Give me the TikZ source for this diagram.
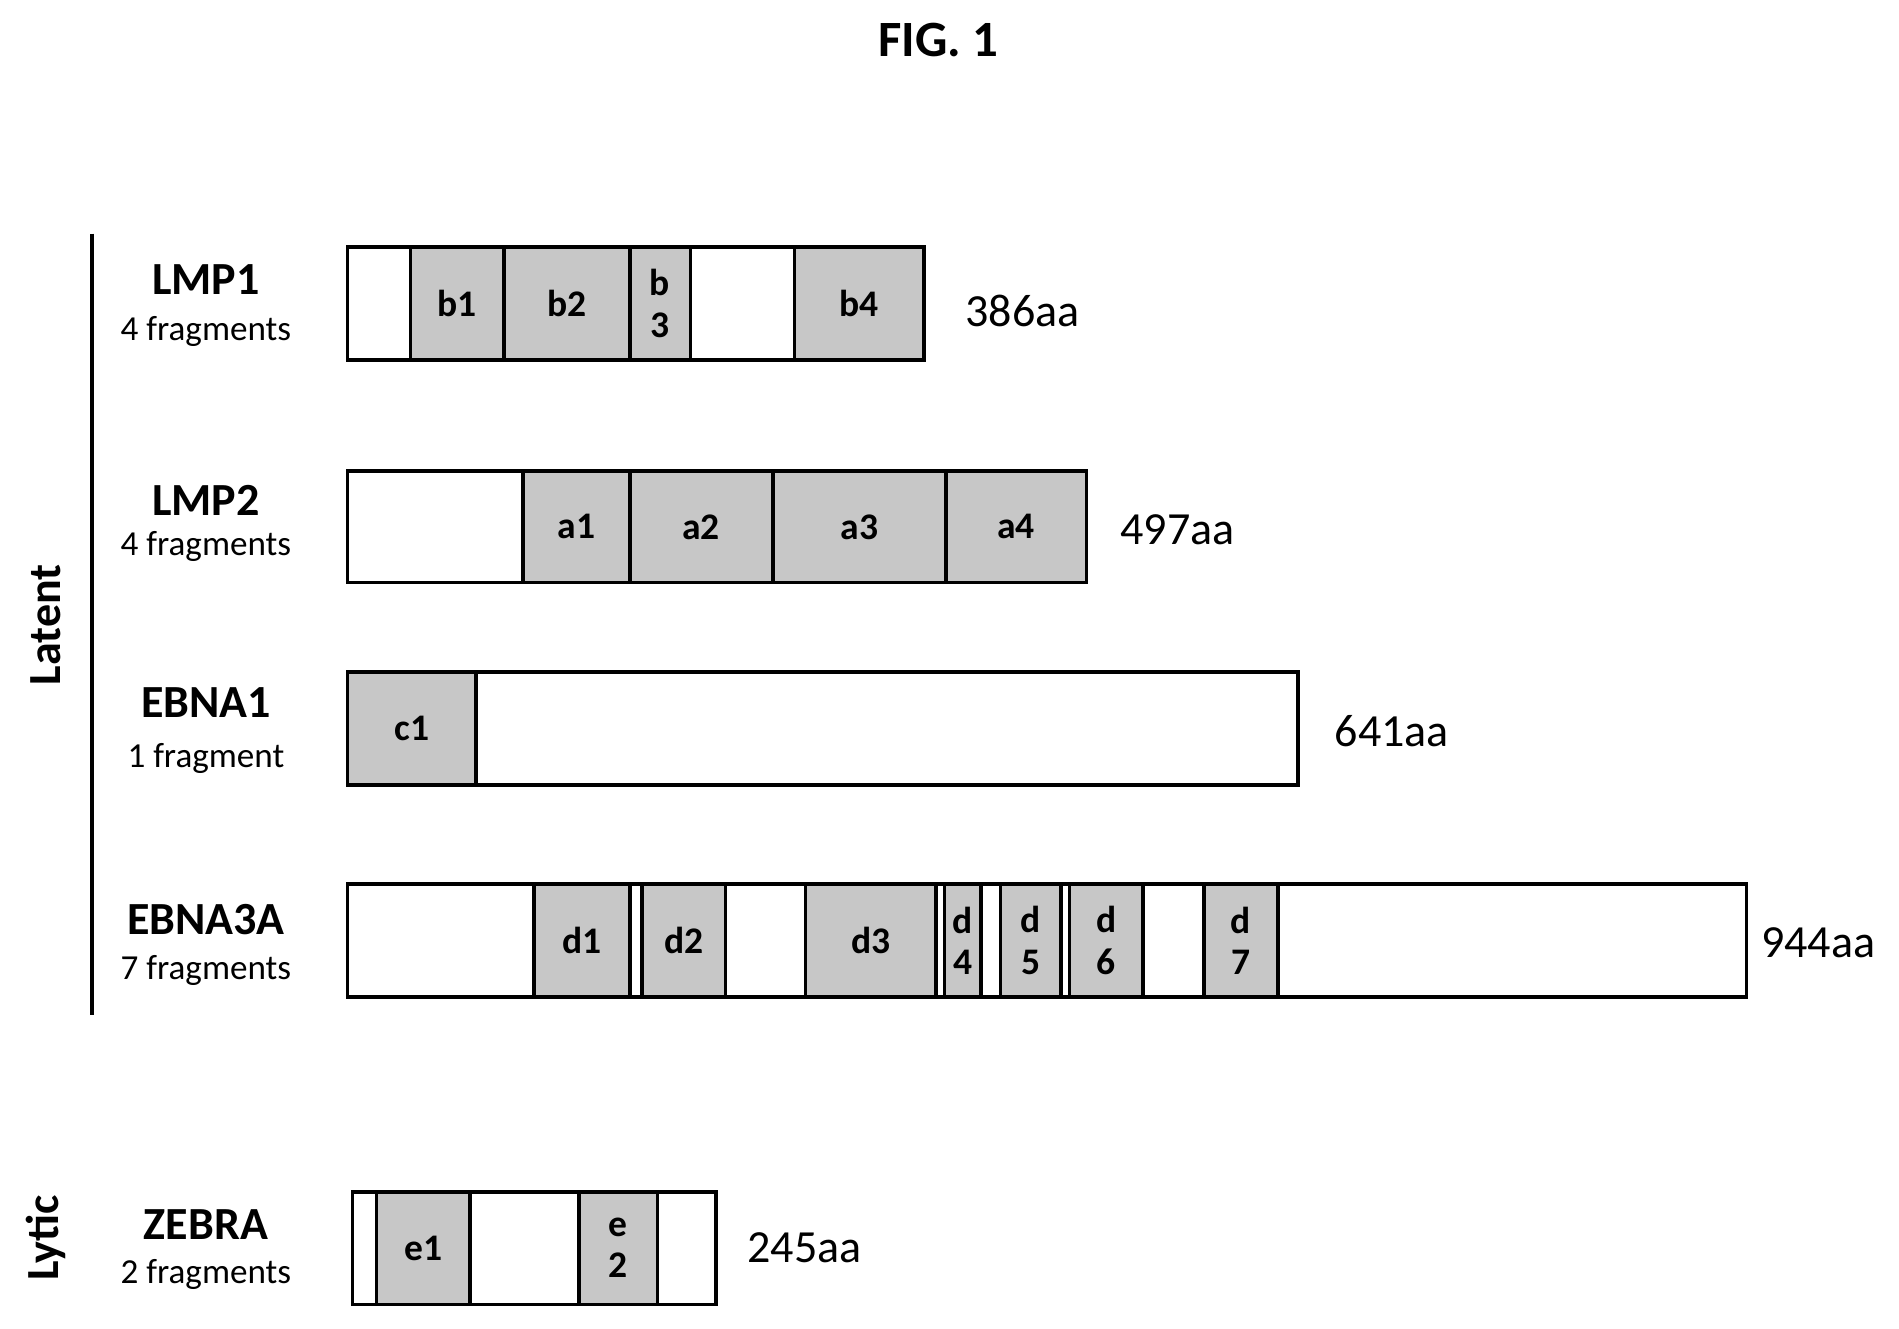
\documentclass[tikz,border=0pt]{standalone}
\usepackage{fontspec}
\setmainfont{Carlito}
\begin{document}
\begin{tikzpicture}[x=0.5pt,y=-0.5pt,
    seg/.style={draw,line width=1.5pt},
    frag/.style={seg,fill=black!22},
    gene/.style={font=\fontsize{19}{21}\selectfont\bfseries},
    count/.style={font=\fontsize{14.5}{16}\selectfont},
    len/.style={font=\fontsize{19}{21}\selectfont,anchor=west},
    lab/.style={font=\fontsize{15.5}{17}\selectfont\bfseries,align=center,inner sep=0pt}]
    \useasboundingbox (0,0) rectangle (1568,1097);

    \node[font=\fontsize{21}{24}\selectfont\bfseries] (fig) at (775,33) {FIG. 1};

    % group line and labels
    \draw[line width=1.5pt] (76,193) -- (76,838);
    \node[gene,rotate=90] (latent) at (38,516) {Latent};
    \node[gene,rotate=90] (lytic) at (38,1022) {Lytic};

    % LMP1
    \draw[seg] (287,204) rectangle (763,297);
    \foreach \a/\b/\t in {339/416/b1,416/520/b2,520/570/{b\\3},656/763/b4}
        \draw[frag] (\a,204) rectangle node[lab] {\t} (\b,297);
    \node[gene] (lmp1) at (170,231) {LMP1};
    \node[count] (lmp1n) at (170,274) {4 fragments};
    \node[len] (lmp1l) at (790,257) {386aa};

    % LMP2
    \draw[seg] (287,389) rectangle (897,481);
    \foreach \a/\b/\t in {432/520/a1,520/638/a2,638/781/a3,781/897/a4}
        \draw[frag] (\a,389) rectangle node[lab] {\t} (\b,481);
    \node[gene] (lmp2) at (170,413) {LMP2};
    \node[count] (lmp2n) at (170,451) {4 fragments};
    \node[len] (lmp2l) at (918,437) {497aa};

    % EBNA1
    \draw[seg] (287,555) rectangle (1072,648);
    \draw[frag] (287,555) rectangle node[lab] {c1} (393,648);
    \node[gene] (ebna1) at (170,580) {EBNA1};
    \node[count] (ebna1n) at (170,626) {1 fragment};
    \node[len] (ebna1l) at (1095,604) {641aa};

    % EBNA3A
    \draw[seg] (287,730) rectangle (1442,823);
    \foreach \a/\b in {520/530,773/780,810/826,876/883}
        \draw[seg] (\a,730) rectangle (\b,823);
    \foreach \a/\b/\t in {441/520/d1,530/599/d2,665/773/d3,780/810/{d\\4},
                         826/876/{d\\5},883/944/{d\\6},994/1055/{d\\7}}
        \draw[frag] (\a,730) rectangle node[lab] {\t} (\b,823);
    \node[gene] (ebna3a) at (170,759) {EBNA3A};
    \node[count] (ebna3an) at (170,801) {7 fragments};
    \node[len] (ebna3al) at (1447,778) {944aa};

    % ZEBRA
    \draw[seg] (291,984) rectangle (591,1077);
    \foreach \a/\b/\t in {311/388/e1,478/543/{e\\2}}
        \draw[frag] (\a,984) rectangle node[lab] {\t} (\b,1077);
    \node[gene] (zebra) at (170,1011) {ZEBRA};
    \node[count] (zebran) at (170,1052) {2 fragments};
    \node[len] (zebral) at (610,1030) {245aa};
\end{tikzpicture}
\end{document}
